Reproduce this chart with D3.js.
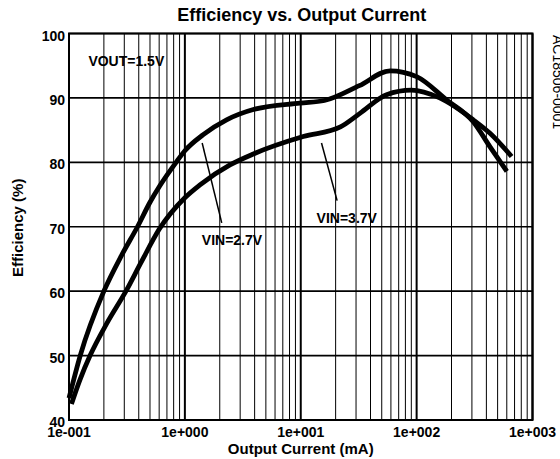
<!DOCTYPE html>
<html lang="en">
<head>
    <meta charset="UTF-8">
    <title>Efficiency vs. Output Current</title>
    <script src="https://d3js.org/d3.v7.min.js"></script>
    <style>
        body { margin: 0; background: #fff; }
        svg text { font-family: "Liberation Sans", Arial, sans-serif; fill: #000; }
        .tick-label { font-size: 14px; font-weight: bold; }
        .axis-label { font-size: 15px; font-weight: bold; }
        .title { font-size: 18px; font-weight: bold; }
        .note { font-size: 14px; font-weight: bold; }
        .curve { fill: none; stroke: #000; stroke-width: 4.8px; stroke-linejoin: round; stroke-linecap: butt; }
    </style>
</head>
<body>
    <div id="chart"></div>

    <script>
        // output current (mA) and efficiency (%)
        const vin27Current = [0.1, 0.125, 0.2, 0.285, 0.39, 0.5, 0.61, 0.84, 1.0, 1.44, 2.29, 3.9, 9.8, 16, 32, 59, 100, 181, 308, 430, 600];
        const vin27Eff     = [43.4, 50, 60, 65.6, 70, 73.8, 76.4, 80, 81.8, 84.3, 86.6, 88.2, 89.2, 89.6, 91.9, 94.2, 93.3, 89.7, 86.3, 82.4, 78.6];

        const vin37Current = [0.105, 0.124, 0.152, 0.212, 0.31, 0.42, 0.6, 1.0, 1.35, 2.45, 3.9, 10.5, 22, 32.4, 55, 90, 158, 308, 430, 660];
        const vin37Eff     = [42.5, 46.2, 50, 55, 60, 64.5, 69.6, 74.5, 76.5, 79.6, 81.3, 84, 85.5, 87.6, 90.5, 91.2, 90, 86.6, 84.5, 80.9];

        const yTicks = [40, 50, 60, 70, 80, 90, 100];
        const xDecades = [0.1, 1, 10, 100, 1000];
        const xTickLabels = ["1e-001", "1e+000", "1e+001", "1e+002", "1e+003"];

        const width = 560, height = 459;
        const plotL = 69, plotR = 532.5, plotT = 33.5, plotB = 420;

        const svg = d3.select("#chart")
            .append("svg")
            .attr("width", width)
            .attr("height", height);

        const x = d3.scaleLog().domain([0.1, 1000]).range([plotL, plotR]);
        const y = d3.scaleLinear().domain([40, 100]).range([plotB, plotT]);

        // minor vertical grid (2..9 in each decade)
        const minor = [];
        xDecades.slice(0, -1).forEach(d => {
            for (let k = 2; k <= 9; k++) minor.push(d * k);
        });

        svg.append("g")
            .selectAll("line")
            .data(minor)
            .enter()
            .append("line")
            .attr("x1", d => x(d)).attr("x2", d => x(d))
            .attr("y1", plotT).attr("y2", plotB)
            .attr("stroke", "#000")
            .attr("stroke-width", 1);

        svg.append("g")
            .selectAll("line")
            .data(xDecades)
            .enter()
            .append("line")
            .attr("x1", d => x(d)).attr("x2", d => x(d))
            .attr("y1", plotT).attr("y2", plotB)
            .attr("stroke", "#000")
            .attr("stroke-width", 2);

        svg.append("g")
            .selectAll("line")
            .data(yTicks)
            .enter()
            .append("line")
            .attr("x1", plotL).attr("x2", plotR)
            .attr("y1", d => y(d)).attr("y2", d => y(d))
            .attr("stroke", "#000")
            .attr("stroke-width", 1.6);

        // frame
        svg.append("rect")
            .attr("x", plotL).attr("y", plotT)
            .attr("width", plotR - plotL).attr("height", plotB - plotT)
            .attr("fill", "none")
            .attr("stroke", "#000")
            .attr("stroke-width", 2);

        // tick labels
        svg.append("g")
            .selectAll("text")
            .data(yTicks)
            .enter()
            .append("text")
            .attr("class", "tick-label")
            .attr("x", plotL - 4)
            .attr("y", d => y(d) + 7)
            .attr("text-anchor", "end")
            .text(d => d);

        svg.append("g")
            .selectAll("text")
            .data(xDecades)
            .enter()
            .append("text")
            .attr("class", "tick-label")
            .attr("x", d => x(d))
            .attr("y", 437)
            .attr("text-anchor", "middle")
            .text((d, i) => xTickLabels[i]);

        // axis titles
        svg.append("text")
            .attr("class", "axis-label")
            .attr("x", (plotL + plotR) / 2)
            .attr("y", 454)
            .attr("text-anchor", "middle")
            .text("Output Current (mA)");

        svg.append("text")
            .attr("class", "axis-label")
            .attr("transform", `translate(23, ${(plotT + plotB) / 2 + 1}) rotate(-90)`)
            .attr("text-anchor", "middle")
            .text("Efficiency (%)");

        svg.append("text")
            .attr("class", "title")
            .attr("x", (plotL + plotR) / 2 + 1)
            .attr("y", 21)
            .attr("text-anchor", "middle")
            .text("Efficiency vs. Output Current");

        svg.append("text")
            .attr("transform", "translate(553, 35) rotate(90)")
            .style("font-size", "14px")
            .text("AC18506-0001");

        // curves
        const line = d3.line()
            .x(d => x(d[0]))
            .y(d => y(d[1]))
            .curve(d3.curveMonotoneX);

        svg.append("path")
            .datum(d3.zip(vin27Current, vin27Eff))
            .attr("class", "curve")
            .attr("d", line);

        svg.append("path")
            .datum(d3.zip(vin37Current, vin37Eff))
            .attr("class", "curve")
            .attr("d", line);

        // annotations
        svg.append("text")
            .attr("class", "note")
            .attr("x", x(0.147)).attr("y", y(95))
            .text("VOUT=1.5V");

        svg.append("line")
            .attr("x1", x(1.41)).attr("y1", y(83))
            .attr("x2", x(2.08)).attr("y2", y(70.6))
            .attr("stroke", "#000").attr("stroke-width", 1.5);

        svg.append("text")
            .attr("class", "note")
            .attr("x", x(1.4)).attr("y", y(67.2))
            .text("VIN=2.7V");

        svg.append("line")
            .attr("x1", x(15.1)).attr("y1", y(83))
            .attr("x2", x(20.6)).attr("y2", y(74.05))
            .attr("stroke", "#000").attr("stroke-width", 1.5);

        svg.append("text")
            .attr("class", "note")
            .attr("x", x(13.7)).attr("y", y(70.6))
            .text("VIN=3.7V");
    </script>
</body>
</html>
